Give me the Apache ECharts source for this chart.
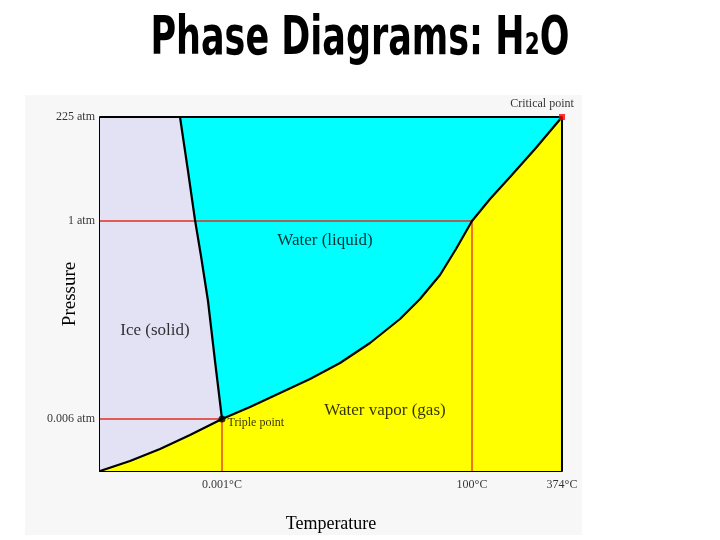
<!DOCTYPE html>
<html><head><meta charset="utf-8">
<script src="https://cdn.jsdelivr.net/npm/echarts@6/dist/echarts.min.js"></script>
<style>html,body{margin:0;background:#fff}#c{width:720px;height:540px}</style>
</head><body><div id="c"></div>
<script>
// coordinates in diagram units (x: 0..462, y: 0..354)
const sublimation = [[0,0],[30,10],[60,22],[90,36],[122,52]];
const vaporization = [[122,52],[150,64],[180,78],[210,92],[240,108],[270,128],[300,152],[320,172],[340,196],[356,222],[372,250],[390,272],[410,294],[435,322],[462,354]];
const melting = [[122,52],[115,110],[108,170],[101,215],[95,251],[88,300],[80,354]];
const yTicks = [[52,'0.006 atm'],[250,'1 atm'],[354,'225 atm']];
const xTicks = [[122,'0.001°C'],[372,'100°C'],[462,'374°C']];
const triple = [122,52], critical = [462,354];
const boil = [372,250];

const serif = '"Liberation Serif","DejaVu Serif",serif';
const iceP = [[0,354]].concat(sublimation, melting.slice(1));
const waterPoly = melting.slice().concat([[462,354]], vaporization.slice(1,-1).reverse());

function poly(pts, fill){
  return {type:'custom', coordinateSystem:'cartesian2d', data:[0], silent:true,
    renderItem:(p,api)=>({type:'polygon', shape:{points:pts.map(q=>api.coord(q))}, style:{fill:fill}})};
}
function line(pts,color,w,z){
  return {type:'line', data:pts, symbol:'none', lineStyle:{color:color,width:w}, z:z, silent:true, animation:false};
}
const lbl = {fontFamily:serif, color:'#000'};
const chart = echarts.init(document.getElementById('c'));
chart.setOption({
  animation:false,
  graphic:[
    {type:'rect', shape:{x:25,y:95,width:557,height:440}, style:{fill:'#f7f7f7'}, z:-10},
    {type:'text', x:360, y:40, scaleX:0.72, style:{text:'Phase Diagrams: H\u2082O', font:'bold 54px "Liberation Sans Narrow","DejaVu Sans Condensed",sans-serif', fill:'#000', align:'center', verticalAlign:'middle'}}
  ],
  grid:{left:100, top:117, width:462, height:354},
  xAxis:{type:'value', min:0, max:462, splitLine:{show:false}, axisTick:{show:false},
    axisLine:{lineStyle:{color:'#000',width:2}},
    axisLabel:{show:false}, name:'Temperature', nameLocation:'middle', nameGap:44,
    nameTextStyle:{fontFamily:serif, fontSize:18, color:'#000'}},
  yAxis:{type:'value', min:0, max:354, splitLine:{show:false}, axisTick:{show:false},
    axisLine:{lineStyle:{color:'#000',width:2}},
    axisLabel:{show:false}, name:'Pressure', nameLocation:'middle', nameGap:20,
    nameTextStyle:{fontFamily:serif, fontSize:19, color:'#000'}},
  series:[
    poly([[0,0],[462,0],[462,354],[0,354]],'#ffff00'),
    poly(iceP,'#e2e2f4'),
    poly(waterPoly,'#00ffff'),
    line([[0,250],boil,[372,0]],'#e03020',1.3,5),
    line([[0,52],triple,[122,0]],'#e03020',1.3,5),
    line(sublimation.concat(vaporization.slice(1)),'#000',2.2,6),
    line(melting,'#000',2.2,6),
    line([[0,354],[462,354],[462,0]],'#000',2,6),
    {type:'scatter', data:[triple], symbolSize:7, itemStyle:{color:'#000'}, z:7,
      label:Object.assign({show:true, formatter:'Triple point', position:'right', distance:2, offset:[0,4], fontSize:12}, lbl)},
    {type:'scatter', data:[critical], symbol:'rect', symbolSize:6, itemStyle:{color:'#ff0000'}, z:7,
      label:Object.assign({show:true, formatter:'Critical point', position:'top', distance:4, offset:[-20,0], fontSize:12}, lbl)},
    {type:'scatter', data:yTicks.map(t=>[0,t[0],t[1]]), symbolSize:0, z:7,
      label:Object.assign({show:true, formatter:p=>p.data[2], position:'left', distance:5, fontSize:12}, lbl)},
    {type:'scatter', data:xTicks.map(t=>[t[0],0,t[1]]), symbolSize:0, z:7,
      label:Object.assign({show:true, formatter:p=>p.data[2], position:'bottom', distance:8, fontSize:12}, lbl)},
    {type:'scatter', data:[[225,230,'Water (liquid)'],[55,140,'Ice (solid)'],[285,60,'Water vapor (gas)']], symbolSize:0, z:7,
      label:Object.assign({show:true, formatter:p=>p.data[2], position:'inside', fontSize:17}, lbl)}
  ]
});
</script></body></html>
